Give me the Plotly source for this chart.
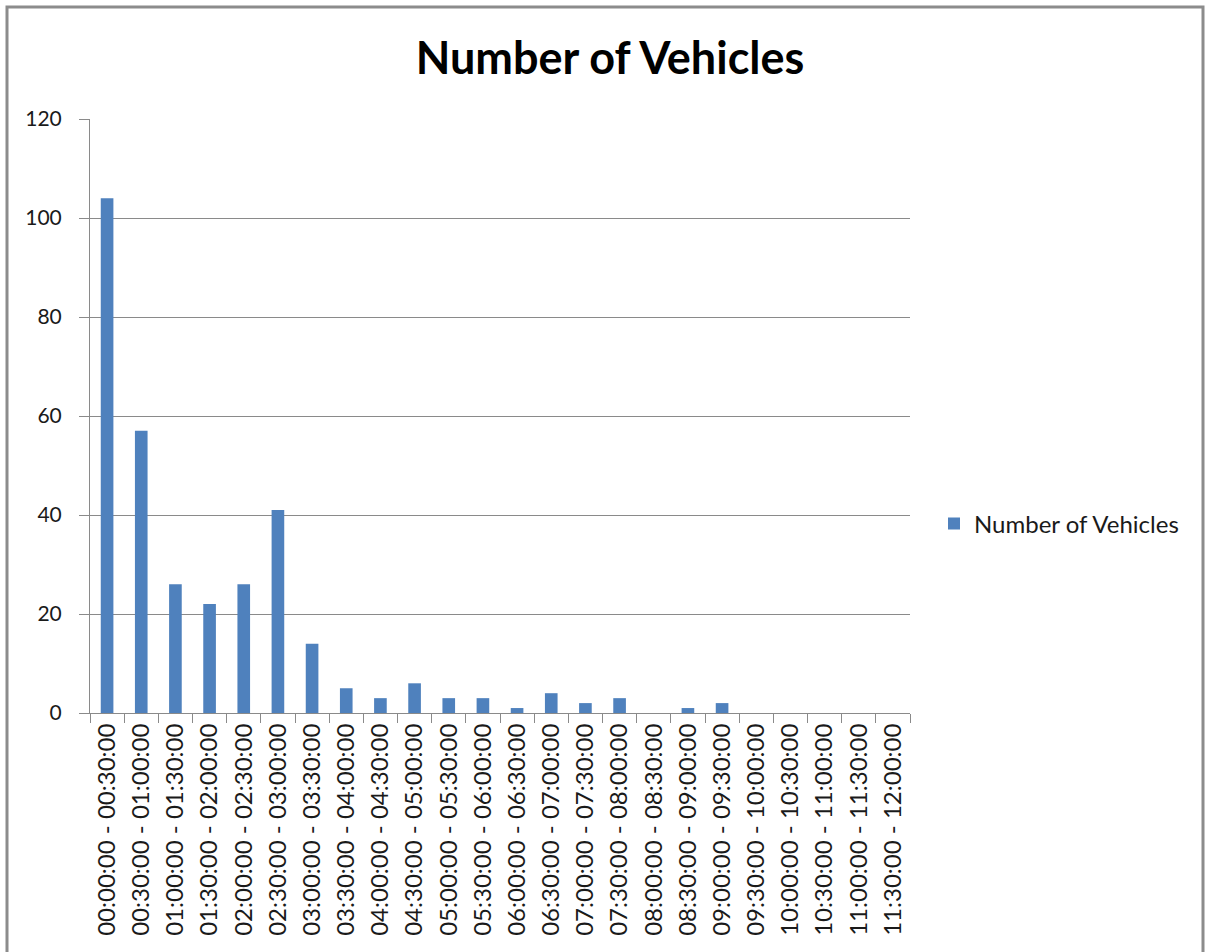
import plotly.graph_objects as go

# Half-hour intervals and vehicle counts
interval_starts = [
    "00:00:00", "00:30:00", "01:00:00", "01:30:00", "02:00:00", "02:30:00",
    "03:00:00", "03:30:00", "04:00:00", "04:30:00", "05:00:00", "05:30:00",
    "06:00:00", "06:30:00", "07:00:00", "07:30:00", "08:00:00", "08:30:00",
    "09:00:00", "09:30:00", "10:00:00", "10:30:00", "11:00:00", "11:30:00",
]
interval_ends = [
    "00:30:00", "01:00:00", "01:30:00", "02:00:00", "02:30:00", "03:00:00",
    "03:30:00", "04:00:00", "04:30:00", "05:00:00", "05:30:00", "06:00:00",
    "06:30:00", "07:00:00", "07:30:00", "08:00:00", "08:30:00", "09:00:00",
    "09:30:00", "10:00:00", "10:30:00", "11:00:00", "11:30:00", "12:00:00",
]
vehicle_counts = [104, 57, 26, 22, 26, 41, 14, 5, 3, 6, 3, 3,
                  1, 4, 2, 3, 0, 1, 2, 0, 0, 0, 0, 0]
y_ticks = [0, 20, 40, 60, 80, 100, 120]

categories = [f"{s} - {e}" for s, e in zip(interval_starts, interval_ends)]

FONT = "Lato, Calibri, Carlito, sans-serif"
GRID = "#8a8a8a"
TEXT = "#1a1a1a"

fig = go.Figure(
    go.Bar(
        x=categories,
        y=vehicle_counts,
        name="Number of Vehicles",
        marker=dict(color="#4F81BD", line=dict(color="#4F81BD", width=0)),
        showlegend=True,
    )
)

W, H = 1205, 952
L, R, T, B = 90, 295, 119, 239
pw, ph = W - L - R, H - T - B


def px_to_paper_x(px):
    return (px - L) / pw


def px_to_paper_y(py):
    return (H - B - py) / ph


fig.update_layout(
    width=W,
    height=H,
    margin=dict(l=L, r=R, t=T, b=B, autoexpand=False),
    paper_bgcolor="white",
    plot_bgcolor="white",
    font=dict(family=FONT, size=24, color=TEXT),
    bargap=0.63,
    title=dict(
        text="<b>Number of Vehicles</b>",
        font=dict(family=FONT, size=45, color="#000000"),
        x=610 / W,
        xanchor="center",
        xref="container",
        y=1 - 58 / H,
        yanchor="middle",
        yref="container",
    ),
    legend=dict(
        x=px_to_paper_x(934),
        y=px_to_paper_y(524),
        xanchor="left",
        yanchor="middle",
        font=dict(family=FONT, size=24, color=TEXT),
        bgcolor="rgba(0,0,0,0)",
        itemwidth=30,
    ),
    xaxis=dict(
        type="category",
        tickangle=-90,
        ticks="outside",
        tickson="boundaries",
        ticklen=9,
        tickcolor=GRID,
        showline=True,
        linecolor=GRID,
        linewidth=1,
        showgrid=False,
        tickfont=dict(family=FONT, size=24, color=TEXT),
    ),
    yaxis=dict(
        range=[0, 120],
        tickvals=y_ticks,
        ticks="outside",
        ticklen=10,
        tickcolor=GRID,
        showline=True,
        linecolor=GRID,
        linewidth=1,
        showgrid=True,
        gridcolor=GRID,
        gridwidth=1,
        zeroline=False,
        ticklabelstandoff=13,
        tickfont=dict(family=FONT, size=21, color=TEXT),
    ),
    shapes=[
        dict(
            type="rect",
            xref="paper",
            yref="paper",
            x0=px_to_paper_x(7),
            x1=px_to_paper_x(1203),
            y0=px_to_paper_y(960),
            y1=px_to_paper_y(7),
            line=dict(color="#8c8c8c", width=3),
            fillcolor="rgba(0,0,0,0)",
            layer="below",
        )
    ],
)

fig.write_html("out.html")
